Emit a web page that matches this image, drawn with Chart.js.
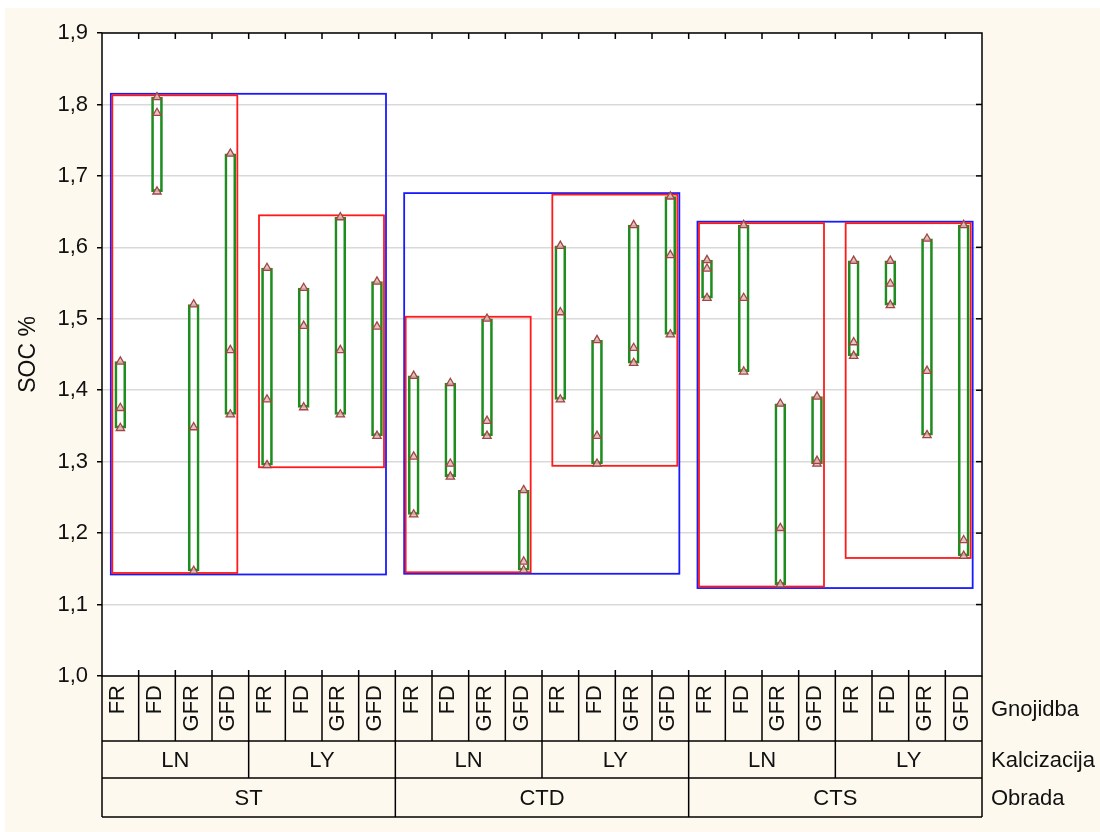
<!DOCTYPE html>
<html><head><meta charset="utf-8">
<script src="https://cdn.jsdelivr.net/npm/chart.js@4.4.1/dist/chart.umd.min.js"></script>
<style>html,body{margin:0;padding:0;background:#fff;}canvas{display:block;}</style>
</head><body>
<canvas id="c" width="1100" height="832"></canvas>
<script>
// ---- data ----
const gnojidba = ['FR','FD','GFR','GFD','FR','FD','GFR','GFD','FR','FD','GFR','GFD',
                  'FR','FD','GFR','GFD','FR','FD','GFR','GFD','FR','FD','GFR','GFD'];
const kalcizacija = ['LN','LY','LN','LY','LN','LY'];
const obrada = ['ST','CTD','CTS'];
const rowTitles = ['Gnojidba','Kalcizacija','Obrada'];
const yTitle = 'SOC %';
const yMin = 1.0, yMax = 1.9, yStep = 0.1;
// three observed values per cell (SOC %)
const rep1 = [1.440,1.810,1.520,1.731, 1.571,1.543,1.642,1.552,
              1.420,1.410,1.500,1.260, 1.602,1.470,1.631,1.671,
              1.582,1.631,1.381,1.391, 1.581,1.581,1.612,1.631];
const rep2 = [1.375,1.788,1.348,1.456, 1.387,1.490,1.456,1.489,
              1.307,1.297,1.357,1.160, 1.509,1.336,1.459,1.589,
              1.570,1.529,1.207,1.301, 1.467,1.549,1.427,1.190];
const rep3 = [1.347,1.678,1.147,1.366, 1.295,1.376,1.366,1.336,
              1.226,1.279,1.336,1.148, 1.387,1.297,1.438,1.478,
              1.529,1.426,1.128,1.297, 1.448,1.519,1.337,1.168];

// ---- derived ----
const cellRange = gnojidba.map((_, i) => [Math.min(rep1[i],rep2[i],rep3[i]), Math.max(rep1[i],rep2[i],rep3[i])]);
function groupRange(from, to){
  let lo = Infinity, hi = -Infinity;
  for (let i = from; i <= to; i++){ lo = Math.min(lo, cellRange[i][0]); hi = Math.max(hi, cellRange[i][1]); }
  return [lo, hi];
}
const fmt = v => v.toFixed(1).replace('.', ',');
const FONT = '"Liberation Sans", Arial, sans-serif';
Chart.defaults.font.family = FONT;
Chart.defaults.font.size = 22;
Chart.defaults.color = '#111';

const decor = {
  id: 'decor',
  beforeDraw(chart){
    const ctx = chart.ctx, a = chart.chartArea;
    ctx.save();
    ctx.fillStyle = '#ffffff'; ctx.fillRect(0,0,chart.width,chart.height);
    ctx.fillStyle = '#fdf9ee'; ctx.fillRect(5,8,chart.width-5,chart.height-8);
    ctx.fillStyle = '#ffffff'; ctx.fillRect(a.left,a.top,a.right-a.left,a.bottom-a.top);
    ctx.restore();
  },
  beforeDatasetsDraw(chart){
    const ctx = chart.ctx, x = chart.scales.x, y = chart.scales.y;
    ctx.save();
    ctx.lineWidth = 1.8;
    const nO = 24 / obrada.length, nK = 24 / kalcizacija.length;
    ctx.strokeStyle = '#1a1aff';
    obrada.forEach((_, o) => {
      const [lo, hi] = groupRange(o*nO, o*nO+nO-1);
      const x0 = x.getPixelForValue(o*nO) - 9.5, x1 = x.getPixelForValue(o*nO+nO-1) + 9;
      const y0 = y.getPixelForValue(hi) - 3.5, y1 = y.getPixelForValue(lo) + 3.5;
      ctx.strokeRect(x0, y0, x1-x0, y1-y0);
    });
    ctx.strokeStyle = '#ff1a1a';
    kalcizacija.forEach((_, k) => {
      const [lo, hi] = groupRange(k*nK, k*nK+nK-1);
      const x0 = x.getPixelForValue(k*nK) - 8, x1 = x.getPixelForValue(k*nK+nK-1) + 7;
      const y0 = y.getPixelForValue(hi) - 2, y1 = y.getPixelForValue(lo) + 2;
      ctx.strokeRect(x0, y0, x1-x0, y1-y0);
    });
    ctx.restore();
  },
  afterDraw(chart){
    const ctx = chart.ctx, a = chart.chartArea;
    const x = chart.scales.x, x2 = chart.scales.x2, x3 = chart.scales.x3, y = chart.scales.y;
    ctx.save();
    ctx.strokeStyle = '#000'; ctx.lineWidth = 1.5;
    ctx.strokeRect(a.left, a.top, a.right-a.left, a.bottom-a.top);
    const line = (xa,ya,xb,yb) => { ctx.beginPath(); ctx.moveTo(xa,ya); ctx.lineTo(xb,yb); ctx.stroke(); };
    const n = gnojidba.length;
    const edge = i => (x.getPixelForValue(i-1) + x.getPixelForValue(i)) / 2;
    for (let i = 1; i < n; i++){
      const bx = edge(i);
      line(bx, a.top, bx, a.top+6);
      line(bx, a.bottom-6, bx, x.bottom);
      if (i % (n/kalcizacija.length) === 0) line(bx, x2.top, bx, x2.bottom);
      if (i % (n/obrada.length) === 0) line(bx, x3.top, bx, x3.bottom);
    }
    // right axis inward ticks
    for (let v = yMin + yStep; v < yMax - 1e-9; v += yStep){
      const py = y.getPixelForValue(v);
      line(a.right-6, py, a.right, py);
    }
    // table frame
    line(a.left, a.bottom, a.left, x3.bottom);
    line(a.right, a.bottom, a.right, x3.bottom);
    [x.bottom, x2.bottom, x3.bottom].forEach(yy => line(a.left, yy, a.right, yy));
    ctx.fillStyle = '#111';
    ctx.font = '22px ' + FONT;
    // Gnojidba labels, rotated, top-aligned in their cells
    gnojidba.forEach((lab, i) => {
      ctx.save();
      ctx.translate(x.getPixelForValue(i) - 2, x.top + 9);
      ctx.rotate(-Math.PI/2);
      ctx.textAlign = 'right'; ctx.textBaseline = 'middle';
      ctx.fillText(lab, 0, 0);
      ctx.restore();
    });
    // row titles
    ctx.textAlign = 'left'; ctx.textBaseline = 'middle';
    [x, x2, x3].forEach((s, i) => ctx.fillText(rowTitles[i], a.right + 9, (s.top + s.bottom)/2 + 1));
    ctx.restore();
  }
};

const pointDs = (data, label) => ({
  type: 'line', label, data, showLine: false, order: 1,
  pointStyle: 'triangle', pointRadius: 4.8, pointBorderWidth: 1.3,
  pointBorderColor: '#a04646', pointBackgroundColor: 'rgba(232,185,185,0.85)'
});

new Chart(document.getElementById('c'), {
  type: 'bar',
  data: {
    labels: gnojidba,
    datasets: [
      { label: 'range', data: cellRange, order: 2, backgroundColor: 'rgba(0,0,0,0)',
        borderColor: '#1e8c1e', borderWidth: 2, borderSkipped: false, barThickness: 11 },
      pointDs(rep1, 'r1'), pointDs(rep2, 'r2'), pointDs(rep3, 'r3')
    ]
  },
  options: {
    responsive: false, animation: false, devicePixelRatio: 1,
    layout: { padding: { top: 33, right: 118, bottom: 15, left: 0 } },
    plugins: { legend: { display: false }, tooltip: { enabled: false } },
    scales: {
      y: {
        min: yMin, max: yMax,
        ticks: { stepSize: yStep, callback: v => fmt(v), padding: 9, color: '#111' },
        grid: { color: '#d9d9d9', lineWidth: 1.5, tickColor: '#000', tickLength: 5, drawTicks: true },
        border: { display: false },
        title: { display: true, text: yTitle, font: { size: 23 }, padding: { top: 15, bottom: 0 }, color: '#111' },
        afterFit: s => { s.width = 102; }
      },
      x: {
        type: 'category', position: 'bottom', offset: true, weight: 0,
        grid: { display: false }, border: { display: false },
        ticks: { display: false },
        afterFit: s => { s.height = 65; }
      },
      x2: {
        type: 'category', position: 'bottom', offset: true, weight: 1, labels: kalcizacija,
        grid: { display: false }, border: { display: false },
        ticks: { maxRotation: 0, autoSkip: false, padding: -1, color: '#111' },
        afterFit: s => { s.height = 37; }
      },
      x3: {
        type: 'category', position: 'bottom', offset: true, weight: 2, labels: obrada,
        grid: { display: false }, border: { display: false },
        ticks: { maxRotation: 0, autoSkip: false, padding: 0, color: '#111' },
        afterFit: s => { s.height = 39; }
      }
    }
  },
  plugins: [decor]
});
</script>
</body></html>
